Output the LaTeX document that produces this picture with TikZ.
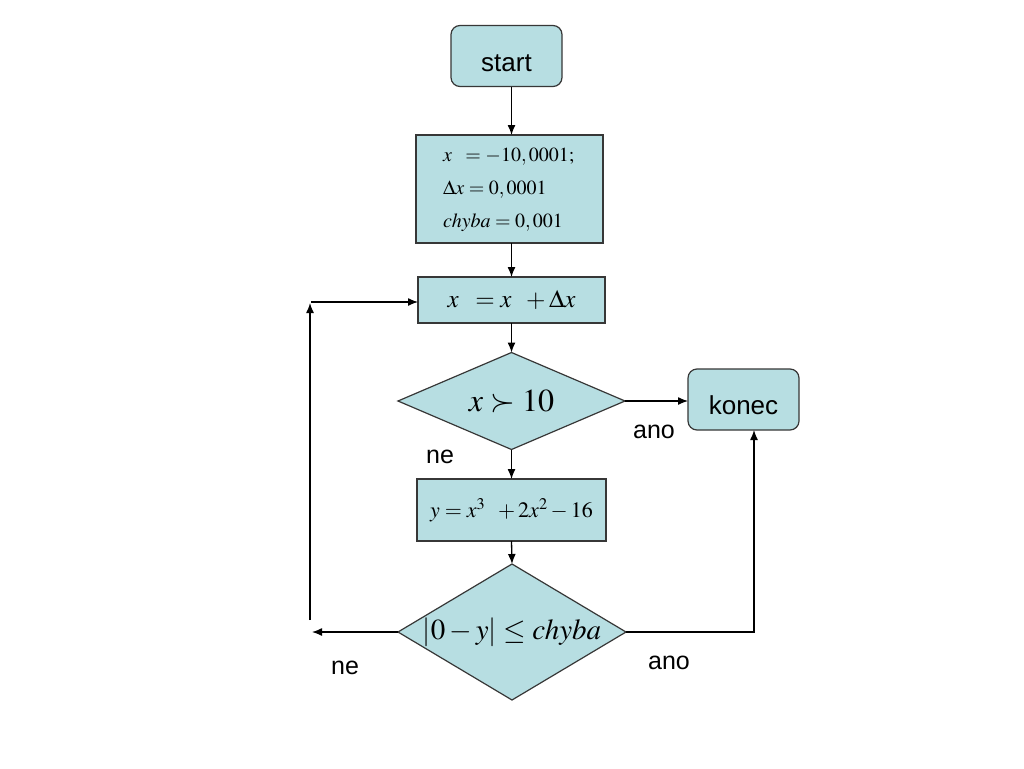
\documentclass[tikz,border=0pt]{standalone}
\usepackage{mathptmx}
\usepackage{fontspec}
\setmainfont{Liberation Sans}
\usetikzlibrary{shapes.geometric,arrows.meta}
\definecolor{boxfill}{RGB}{183,222,226}
\definecolor{boxline}{RGB}{55,55,55}
\begin{document}
\begin{tikzpicture}[x=1pt,y=-1pt,
  box/.style={draw=boxline,fill=boxfill,line width=1.2pt,inner sep=0pt,outer sep=0pt},
  proc/.style={box,rectangle},
  term/.style={box,rectangle,rounded corners=9pt,minimum width=111pt,minimum height=61pt,text height=30pt,text depth=0pt,font=\fontsize{26}{30}\selectfont},
  cond/.style={box,diamond},
  arr/.style={line width=1.3pt,-{Latex[length=10pt,width=8pt]}},
  lbl/.style={font=\fontsize{25}{30}\selectfont,inner sep=0pt}]
\useasboundingbox (0,0) rectangle (1024,768);
\fill[white] (0,0) rectangle (1024,768);
\node[term] (start) at (506.5,56) {start};
\node[proc,minimum width=187pt,minimum height=108pt] (init) at (509.5,189) {};
\node[anchor=west,inner sep=0pt,align=left,font=\fontsize{20}{33}\selectfont] (inittext) at (443,190)
  {$x\;\;=-10,0001;$\\ $\Delta x=0,0001$\\ $\mathit{chyba}=0,001$};
\node[proc,minimum width=187pt,minimum height=46pt,font=\fontsize{25}{28}\selectfont] (xbox) at (511.5,300) {$x\;\;=x\;\;+\Delta x$};
\node[cond,minimum width=227pt,minimum height=97pt,shape aspect=2.3,font=\fontsize{32}{36}\selectfont] (d1) at (511.5,401) {$x\succ 10$};
\node[term] (konec) at (743.5,399.5) {konec};
\node[proc,minimum width=189pt,minimum height=62pt,font=\fontsize{22}{28}\selectfont] (ybox) at (511.5,510) {$y=x^3\;\;+2x^2-16$};
\node[cond,minimum width=228pt,minimum height=136pt,shape aspect=1.67,font=\fontsize{29}{34}\selectfont] (d2) at (512,632) {$\left|0-y\right|\le \mathit{chyba}$};
\coordinate (L1) at (312,632);
\coordinate (L2) at (310,620);
\coordinate (L3) at (310,303);
\coordinate (L4) at (311,302);
\draw[arr] (start.south -| xbox) -- (init.north -| xbox);
\draw[arr] (init.south -| xbox) -- (xbox.north);
\draw[arr] (xbox.south) -- (d1.north);
\draw[arr] (d1.south) -- (ybox.north);
\draw[arr] (ybox.south) -- (d2.north);
\draw[arr] (d1.east) -- (d1.east -| konec.west);
\draw[arr] (d2.east) -| ([xshift=10.5pt]konec.south);
\draw[arr] (d2.west) -- (d2.west -| L1);
\draw[arr] (L2) -- (L3);
\draw[arr] (L4) -- (L4 -| xbox.west);
\node[lbl] (ano1) at (654,432) {ano};
\node[lbl] (ne1) at (440,457) {ne};
\node[lbl] (ano2) at (669,663) {ano};
\node[lbl] (ne2) at (345,668) {ne};
\end{tikzpicture}
\end{document}
